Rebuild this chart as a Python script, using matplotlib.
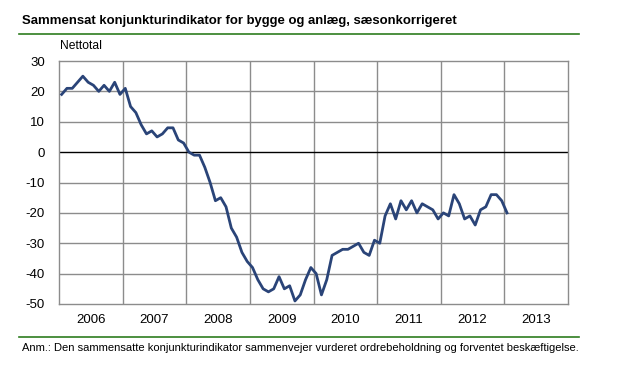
import matplotlib
matplotlib.use("Agg")
import matplotlib.pyplot as plt
from matplotlib import font_manager
import numpy as np

names = {f.name for f in font_manager.fontManager.ttflist}
FONT = "Liberation Sans" if "Liberation Sans" in names else "DejaVu Sans"
plt.rcParams["font.family"] = [FONT, "DejaVu Sans"]

title = "Sammensat konjunkturindikator for bygge og anlæg, sæsonkorrigeret"
ylabel = "Nettotal"
note = "Anm.: Den sammensatte konjunkturindikator sammenvejer vurderet ordrebeholdning og forventet beskæftigelse."

years = [2006, 2007, 2008, 2009, 2010, 2011, 2012, 2013]
values = [
    19, 21, 21, 23, 25, 23, 22, 20, 22, 20, 23, 19,          # 2006
    21, 15, 13, 9, 6, 7, 5, 6, 8, 8, 4, 3,                   # 2007
    0, -1, -1, -5, -10, -16, -15, -18, -25, -28, -33, -36,    # 2008
    -38, -42, -45, -46, -45, -41, -45, -44, -49, -47, -42, -38,  # 2009
    -40, -47, -42, -34, -33, -32, -32, -31, -30, -33, -34, -29,  # 2010
    -30, -21, -17, -22, -16, -19, -16, -20, -17, -18, -19, -22,  # 2011
    -20, -21, -14, -17, -22, -21, -24, -19, -18, -14, -14, -16,  # 2012
    -20,                                                       # 2013
]
yticks = [30, 20, 10, 0, -10, -20, -30, -40, -50]

W, H = 627, 375
fig = plt.figure(figsize=(W / 100, H / 100), dpi=100)
renderer = fig.canvas.get_renderer()


def fitted_text(xpx, ypx, s, target_w, max_size, **kw):
    t = fig.text(xpx / W, 1 - ypx / H, s, fontsize=max_size, va="center", ha="left", **kw)
    w = t.get_window_extent(renderer).width
    if w > target_w:
        t.set_fontsize(max_size * target_w / w)
    return t


# plot area in pixels
L, R, T, B = 59, 568, 61, 304
ax = fig.add_axes([L / W, 1 - B / H, (R - L) / W, (B - T) / H])

x = years[0] + (np.arange(len(values)) + 0.5) / 12.0
ax.plot(x, values, color="#2a4478", lw=2.0, solid_joinstyle="round", zorder=3)

ax.set_xlim(years[0], years[-1] + 1)
ax.set_ylim(-50, 30)
ax.set_yticks(yticks)
ax.set_yticklabels([str(v) for v in yticks])
ax.set_xticks(years, minor=False)
ax.set_xticklabels([])
ax.set_xticks([y + 0.5 for y in years], minor=True)
ax.set_xticklabels([str(y) for y in years], minor=True)

grid_c = "#8c8c8c"
for y in years[1:]:
    ax.axvline(y, color=grid_c, lw=1.0, zorder=1)
for v in yticks:
    if v not in (30, -50, 0):
        ax.axhline(v, color=grid_c, lw=1.0, zorder=1)
ax.axhline(0, color="black", lw=1.0, zorder=2)
for s in ax.spines.values():
    s.set_color(grid_c)
    s.set_linewidth(1.0)

ax.tick_params(axis="both", which="both", length=0, labelsize=9.5, colors="black")
ax.tick_params(axis="y", pad=10)
ax.tick_params(axis="x", which="minor", pad=7)

fitted_text(22, 21, title, 440, 11, fontweight="bold")
fig.add_artist(plt.Line2D([19 / W, 579 / W], [1 - 33.5 / H] * 2, color="#2e7d1f", lw=1.2))
fitted_text(60, 46, ylabel, 42, 9.5)
fig.add_artist(plt.Line2D([19 / W, 579 / W], [1 - 337 / H] * 2, color="#2e7d1f", lw=1.2))
fitted_text(22, 348, note, 555, 9)

fig.savefig("out.png", dpi=100)
